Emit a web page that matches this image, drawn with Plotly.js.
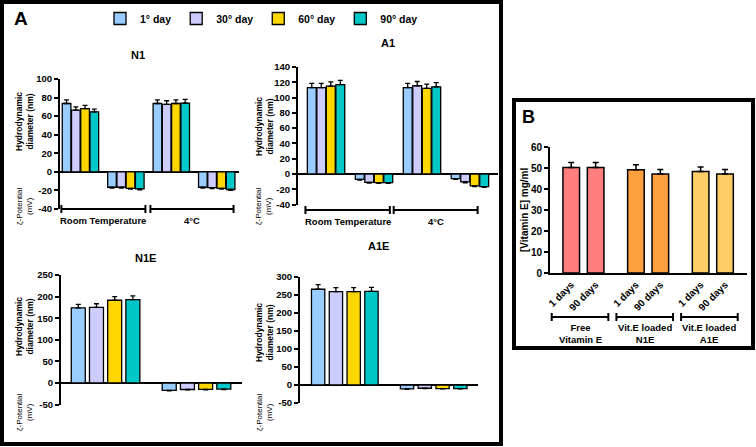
<!DOCTYPE html>
<html><head><meta charset="utf-8">
<script src="https://cdn.plot.ly/plotly-3.0.1.min.js"></script>
<style>html,body{margin:0;padding:0;background:#fff}#chart{width:756px;height:447px}</style>
</head><body><div id="chart"></div>
<script>
// ---------- DATA ----------
const dayLabels = ["1° day", "30° day", "60° day", "90° day"];
const dayColors = ["#99CCFF", "#CCCCFF", "#FFD700", "#00C8C8"];
// columns: [hydro RT, zeta RT, hydro 4°C, zeta 4°C]; rows: days
const n1Values = [[73.6, -16.6, 73.6, -16.6], [66.4, -16.6, 72.6, -17.0], [68.2, -17.7, 73.6, -17.7], [64.6, -18.4, 74.0, -19.0]];
const n1Errors = [[4, 1, 4, 1], [3.5, 1, 4, 1], [3.5, 1, 4, 1], [3, 1, 4, 1]];
const a1Values = [[113, -7.0, 113, -6.0], [113, -11.0, 115.5, -10.4], [115, -11.3, 112, -15.6], [117, -11.3, 114, -16.5]];
const a1Errors = [[5.5, 1, 5.5, 1], [5.5, 1, 5.5, 1], [5.5, 1, 5.5, 1], [5.5, 1, 5.5, 1]];
// columns: [hydro, zeta]
const n1eValues = [[174, -17], [175, -15], [191.5, -14.6], [193, -14]];
const n1eErrors = [[8, 1], [8.5, 1], [8.5, 1], [8.5, 1]];
const a1eValues = [[266, -11], [259.5, -9], [259.5, -10], [260, -10]];
const a1eErrors = [[13, 1], [11, 1], [11, 1], [11, 1]];
const conditionLabels = ["Room Temperature", "4°C"];
const n1Ticks = [-40, -20, 0, 20, 40, 60, 80, 100];
const a1Ticks = [-40, -20, 0, 20, 40, 60, 80, 100, 120, 140];
const n1eTicks = [-50, 0, 50, 100, 150, 200, 250];
const a1eTicks = [-50, 0, 50, 100, 150, 200, 250, 300];
// Panel B
const bGroups = ["Free<br>Vitamin E", "Vit.E loaded<br>N1E", "Vit.E loaded<br>A1E"];
const bDays = ["1 days", "90 days"];
const bValues = [[50.2, 50.2], [49.2, 47.2], [48.3, 47.2]];
const bErrors = [[2.4, 2.4], [2.3, 2.1], [2.2, 2.1]];
const bColors = ["#FF7F7F", "#FFA040", "#FFCC66"];
const bTicks = [0, 10, 20, 30, 40, 50, 60];

// ---------- LAYOUT HELPERS ----------
const W = 756, H = 447;
const px = v => v / W;
const py = v => 1 - v / H;
const FONT = "Liberation Sans, Arial, sans-serif";

function panelTraces(values, errs, xa, ya, groupW, barW, showLegend) {
  return dayLabels.map((name, i) => {
    const slot = groupW / 4;
    const offset = -groupW / 2 + i * slot + (slot - barW) / 2;
    const vals = values[i];
    return {
      type: 'bar', name: name, x: vals.map((_, k) => k), y: vals, xaxis: xa, yaxis: ya,
      width: barW, offset: offset,
      marker: {color: dayColors[i], line: {color: '#000', width: 1.3}},
      error_y: {type: 'data', symmetric: false,
        array: vals.map((v, k) => v >= 0 ? errs[i][k] : 0),
        arrayminus: vals.map((v, k) => v < 0 ? errs[i][k] : 0),
        color: '#000', thickness: 1.3, width: 2.5},
      showlegend: showLegend, legendgroup: name, hoverinfo: 'skip'
    };
  });
}

const traces = [].concat(
  panelTraces(n1Values, n1Errors, 'x', 'y', 0.815, 0.19, true),
  panelTraces(a1Values, a1Errors, 'x2', 'y2', 0.793, 0.185, false),
  panelTraces(n1eValues, n1eErrors, 'x3', 'y3', 0.8, 0.154, false),
  panelTraces(a1eValues, a1eErrors, 'x4', 'y4', 0.8, 0.15, false)
);

// Panel B bars
const bStep = 2.65;
const bX = [], bY = [], bE = [], bC = [], bT = [];
bValues.forEach((row, g) => row.forEach((v, d) => {
  bX.push(g * bStep + d); bY.push(v); bE.push(bErrors[g][d]); bC.push(bColors[g]); bT.push(bDays[d]);
}));
traces.push({
  type: 'bar', x: bX, y: bY, xaxis: 'x5', yaxis: 'y5', width: 0.68,
  marker: {color: bC, line: {color: '#000', width: 1.5}},
  error_y: {type: 'data', symmetric: false, array: bE, arrayminus: bE.map(() => 0), color: '#000', thickness: 1.5, width: 3},
  showlegend: false, hoverinfo: 'skip'
});

function xAx(x0, x1, range, anchor) {
  return {domain: [px(x0), px(x1)], range: range, anchor: anchor, showline: false, showticklabels: false,
    ticks: '', showgrid: false, zeroline: false, fixedrange: true};
}
function yAx(y0, y1, range, ticks, anchor, size) {
  return {domain: [py(y1), py(y0)], range: range, anchor: anchor,
    tickvals: ticks, ticktext: ticks.map(String),
    showline: true, linewidth: 2, linecolor: '#000', ticks: 'outside', ticklen: 4, tickwidth: 2, tickcolor: '#000',
    showgrid: false, zeroline: true, zerolinewidth: 2, zerolinecolor: '#000',
    tickfont: {family: FONT, size: size || 9.5, weight: 'bold', color: '#000'}, fixedrange: true};
}

const shapes = [];
const annotations = [];
function bracket(xref, x0, x1, ypx, label, labelY, size) {
  const yy = py(ypx);
  const c = {color: '#000', width: 2};
  shapes.push({type: 'line', xref: xref, yref: 'paper', x0: x0, x1: x1, y0: yy, y1: yy, line: c});
  shapes.push({type: 'line', xref: xref, yref: 'paper', x0: x0, x1: x0, y0: py(ypx - 4), y1: py(ypx + 4), line: c});
  shapes.push({type: 'line', xref: xref, yref: 'paper', x0: x1, x1: x1, y0: py(ypx - 4), y1: py(ypx + 4), line: c});
  annotations.push({xref: xref, yref: 'paper', x: (x0 + x1) / 2, y: py(labelY), text: label, showarrow: false,
    xanchor: 'center', yanchor: 'top', font: {family: FONT, size: size || 9.5, weight: 'bold', color: '#000'}});
}
bracket('x', -0.42, 1.43, 209, conditionLabels[0], 213);
bracket('x', 1.54, 3.37, 209, conditionLabels[1], 213);
bracket('x2', -0.43, 1.33, 210, conditionLabels[0], 214);
bracket('x2', 1.41, 3.16, 210, conditionLabels[1], 214);
bGroups.forEach((g, i) => bracket('x5', i * bStep - 0.8, i * bStep + 1.52, 317, g, 320, 9.5));

function txt(x, y, text, size, bold, angle) {
  annotations.push({xref: 'paper', yref: 'paper', x: px(x), y: py(y), text: text, showarrow: false,
    xanchor: 'center', yanchor: 'middle', textangle: angle || 0,
    font: {family: FONT, size: size, weight: bold ? 'bold' : 'normal', color: '#000'}});
}
txt(20.5, 18.5, 'A', 19, true);
txt(528, 117, 'B', 18, true);
txt(138, 55, 'N1', 11, true);
txt(388, 43, 'A1', 11, true);
txt(145, 258, 'N1E', 11, true);
txt(378, 246, 'A1E', 11, true);
const hydroText = 'Hydrodynamic<br>diameter (nm)';
const zetaText = 'ζ-Potential<br>(mV)';
txt(24, 122, hydroText, 8.5, true, -90);
txt(264, 127, hydroText, 8.5, true, -90);
txt(24, 327, hydroText, 8.5, true, -90);
txt(264, 333, hydroText, 8.5, true, -90);
txt(24, 206, zetaText, 8, false, -90);
txt(263, 206, zetaText, 8, false, -90);
txt(24, 412, zetaText, 8, false, -90);
txt(264, 412, zetaText, 8, false, -90);
txt(524, 210, '[Vitamin E] mg/ml', 10, true, -90);

// frames
shapes.push({type: 'rect', xref: 'paper', yref: 'paper', x0: px(2), x1: px(501), y0: py(444), y1: py(2), line: {color: '#000', width: 4}});
shapes.push({type: 'rect', xref: 'paper', yref: 'paper', x0: px(514), x1: px(753), y0: py(348), y1: py(100), line: {color: '#000', width: 4}});

const layout = {
  width: W, height: H, margin: {l: 0, r: 0, t: 0, b: 0},
  paper_bgcolor: '#fff', plot_bgcolor: 'rgba(0,0,0,0)',
  barmode: 'overlay', showlegend: true,
  legend: {orientation: 'h', x: px(100), y: py(4), xanchor: 'left', yanchor: 'top', itemwidth: 30,
    font: {family: FONT, size: 10.5, weight: 'bold', color: '#000'}, bgcolor: 'rgba(0,0,0,0)', traceorder: 'normal'},
  xaxis: xAx(60, 239, [-0.45, 3.49], 'y'),
  yaxis: yAx(79, 209, [-40, 100], n1Ticks, 'x'),
  xaxis2: xAx(298, 498, [-0.585, 3.585], 'y2'),
  yaxis2: yAx(67, 204.6, [-40, 140], a1Ticks, 'x2'),
  xaxis3: xAx(61, 242, [-0.49, 1.5], 'y3'),
  yaxis3: yAx(275, 404.6, [-50, 250], n1eTicks, 'x3'),
  xaxis4: xAx(300, 477.7, [-0.504, 1.495], 'y4'),
  yaxis4: yAx(277, 403, [-50, 300], a1eTicks, 'x4'),
  xaxis5: {domain: [px(550), px(747)], range: [-0.87, 7.2], anchor: 'y5', showline: true, linewidth: 2, linecolor: '#000',
    tickvals: bX, ticktext: bT, tickangle: -45, ticks: '', showgrid: false, zeroline: false,
    tickfont: {family: FONT, size: 10, weight: 'bold', color: '#000'}, fixedrange: true},
  yaxis5: Object.assign(yAx(147, 273, [0, 60], bTicks, 'x5', 10), {zeroline: false}),
  shapes: shapes, annotations: annotations
};

Plotly.newPlot('chart', traces, layout, {staticPlot: true, displayModeBar: false});
</script>
</body></html>
